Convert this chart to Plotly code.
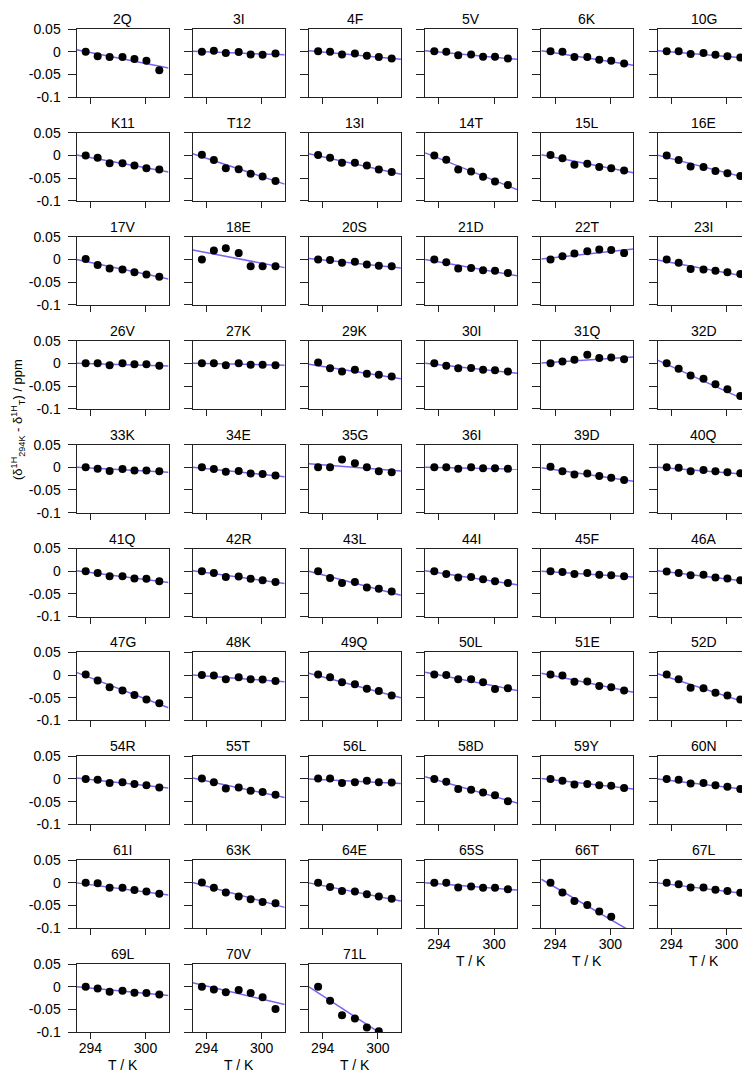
import plotly.graph_objects as go

labels = [
    "2Q", "3I", "4F", "5V", "6K", "10G",
    "K11", "T12", "13I", "14T", "15L", "16E",
    "17V", "18E", "20S", "21D", "22T", "23I",
    "26V", "27K", "29K", "30I", "31Q", "32D",
    "33K", "34E", "35G", "36I", "39D", "40Q",
    "41Q", "42R", "43L", "44I", "45F", "46A",
    "47G", "48K", "49Q", "50L", "51E", "52D",
    "54R", "55T", "56L", "58D", "59Y", "60N",
    "61I", "63K", "64E", "65S", "66T", "67L",
    "69L", "70V", "71L",
]

temps = [293.5, 294.8, 296.1, 297.5, 298.8, 300.1, 301.5]

# delta(294K) - delta(T), ppm, one list per residue
shifts = [
    [0, -0.010, -0.012, -0.012, -0.016, -0.020, -0.041],
    [0, 0.002, -0.003, -0.001, -0.006, -0.007, -0.004],
    [0.001, 0, -0.006, -0.004, -0.009, -0.012, -0.015],
    [0.001, 0, -0.008, -0.006, -0.011, -0.011, -0.015],
    [0.001, 0, -0.012, -0.012, -0.018, -0.020, -0.026],
    [0.001, 0.001, -0.005, -0.003, -0.007, -0.010, -0.013],
    [0, -0.005, -0.017, -0.017, -0.022, -0.028, -0.031],
    [0.002, -0.010, -0.028, -0.030, -0.040, -0.046, -0.056],
    [0.001, -0.005, -0.016, -0.016, -0.022, -0.031, -0.036],
    [0, -0.009, -0.031, -0.035, -0.047, -0.057, -0.065],
    [0.001, -0.006, -0.020, -0.018, -0.025, -0.028, -0.033],
    [0, -0.010, -0.024, -0.025, -0.034, -0.039, -0.045],
    [0.001, -0.012, -0.020, -0.022, -0.028, -0.033, -0.038],
    [0, 0.020, 0.025, 0.014, -0.015, -0.015, -0.015],
    [0, -0.001, -0.007, -0.005, -0.011, -0.014, -0.015],
    [0, -0.006, -0.020, -0.019, -0.024, -0.025, -0.030],
    [0, 0.007, 0.013, 0.018, 0.022, 0.021, 0.014],
    [0, -0.007, -0.021, -0.022, -0.025, -0.028, -0.032],
    [0, 0, -0.004, 0, -0.002, -0.002, -0.005],
    [0, 0, -0.004, 0, -0.003, -0.003, -0.004],
    [0.002, -0.011, -0.018, -0.014, -0.023, -0.025, -0.029],
    [0, -0.005, -0.011, -0.010, -0.014, -0.015, -0.018],
    [0, 0.004, 0.008, 0.019, 0.012, 0.013, 0.009],
    [0, -0.012, -0.027, -0.034, -0.046, -0.057, -0.072],
    [0, -0.003, -0.008, -0.004, -0.007, -0.007, -0.009],
    [0, -0.004, -0.010, -0.008, -0.014, -0.015, -0.018],
    [0, 0, 0.017, 0.009, 0, -0.009, -0.011],
    [0, 0, -0.003, 0, -0.002, -0.002, -0.003],
    [0.001, -0.009, -0.016, -0.014, -0.019, -0.023, -0.028],
    [0, -0.001, -0.009, -0.006, -0.009, -0.011, -0.013],
    [0, -0.004, -0.011, -0.011, -0.016, -0.017, -0.022],
    [0, -0.004, -0.013, -0.012, -0.017, -0.020, -0.024],
    [0, -0.015, -0.026, -0.024, -0.036, -0.039, -0.045],
    [0, -0.006, -0.014, -0.013, -0.018, -0.022, -0.026],
    [0, -0.002, -0.006, -0.004, -0.008, -0.009, -0.011],
    [-0.001, -0.004, -0.009, -0.008, -0.014, -0.016, -0.020],
    [0.001, -0.012, -0.027, -0.034, -0.044, -0.054, -0.062],
    [0, -0.001, -0.009, -0.005, -0.009, -0.010, -0.013],
    [0.001, -0.005, -0.016, -0.020, -0.030, -0.035, -0.045],
    [0.001, 0, -0.009, -0.009, -0.016, -0.031, -0.029],
    [0.001, -0.001, -0.015, -0.014, -0.024, -0.027, -0.034],
    [0.001, -0.009, -0.028, -0.029, -0.039, -0.045, -0.054],
    [0, -0.002, -0.009, -0.007, -0.011, -0.014, -0.019],
    [0.001, -0.007, -0.021, -0.019, -0.026, -0.029, -0.035],
    [0.001, 0.001, -0.009, -0.007, -0.004, -0.007, -0.008],
    [0, -0.006, -0.022, -0.024, -0.030, -0.036, -0.049],
    [0, -0.004, -0.012, -0.011, -0.014, -0.015, -0.020],
    [0, -0.002, -0.010, -0.009, -0.014, -0.017, -0.022],
    [0, -0.001, -0.011, -0.011, -0.016, -0.019, -0.024],
    [0.001, -0.011, -0.021, -0.030, -0.036, -0.042, -0.045],
    [0, -0.009, -0.018, -0.019, -0.025, -0.030, -0.035],
    [0, 0, -0.010, -0.008, -0.011, -0.011, -0.014],
    [0, -0.021, -0.040, -0.049, -0.063, -0.075],
    [0, -0.003, -0.010, -0.010, -0.015, -0.018, -0.022],
    [0, -0.004, -0.011, -0.009, -0.013, -0.014, -0.017],
    [0, -0.006, -0.012, -0.007, -0.014, -0.023, -0.049],
    [0, -0.031, -0.063, -0.070, -0.090, -0.098],
]

# fitted line values at the left (292.5 K) and right (302.5 K) edges
fit_start = [
    0.004, 0.001, 0.002, 0.002, 0.002, 0.002,
    0.001, 0.004, 0.004, 0.006, 0.002, 0.001,
    0.0, 0.021, 0.002, 0.0, 0.001, -0.001,
    0.0, 0.0, -0.002, 0.0, 0.001, 0.007,
    0.0, 0.0, 0.008, 0.0, -0.001, 0.0,
    0.001, 0.001, 0.0, 0.001, 0.0, 0.001,
    0.006, 0.0, 0.004, 0.006, 0.004, 0.003,
    0.002, 0.002, 0.0, 0.005, 0.001, 0.0,
    0.0, 0.001, 0.0, 0.0, 0.008, 0.0,
    0.0, 0.009, 0.0,
]
fit_end = [
    -0.036, -0.007, -0.017, -0.017, -0.030, -0.015,
    -0.036, -0.063, -0.041, -0.075, -0.038, -0.051,
    -0.043, -0.018, -0.019, -0.036, 0.023, -0.039,
    -0.006, -0.004, -0.034, -0.022, 0.014, -0.085,
    -0.011, -0.021, -0.008, -0.004, -0.031, -0.016,
    -0.025, -0.027, -0.053, -0.030, -0.013, -0.023,
    -0.072, -0.015, -0.050, -0.034, -0.038, -0.063,
    -0.020, -0.041, -0.010, -0.053, -0.022, -0.024,
    -0.027, -0.054, -0.040, -0.016, -0.110, -0.025,
    -0.019, -0.039, -0.132,
]

x_range = [292.5, 302.5]
x_ticks = [294, 300]
y_ticks = [-0.1, -0.05, 0, 0.05]
y_ticktext = ["-0.1", "-0.05", "0", "0.05"]

# the page body adds an 8px margin, so the figure is drawn 8px smaller;
# positions below are page pixels, converted to figure fractions
PAD = 8
W, H = 750 - PAD, 1075 - PAD
FONT = "Liberation Sans, Arial, Helvetica, sans-serif"
LINE_COLOR = "#7b61f2"
AXIS_COLOR = "#222222"


def px_x(x):
    return (x - PAD) / W


def px_y(y):
    return 1 - (y - PAD) / H


fig = go.Figure()
layout = {}
annotations = []

for i, label in enumerate(labels):
    row, col = divmod(i, 6)
    n = "" if i == 0 else str(i + 1)
    xa, ya = "x" + n, "y" + n

    # panel box in page pixels
    left = 76.5 + 116.2 * col
    top = 29 + 103.9 * row
    bottom_panel = row == 9 or (row == 8 and col >= 3)

    fig.add_trace(go.Scatter(
        x=x_range, y=[fit_start[i], fit_end[i]],
        mode="lines", line=dict(color=LINE_COLOR, width=1.5),
        xaxis=xa, yaxis=ya, showlegend=False, hoverinfo="skip",
    ))
    ys = shifts[i]
    fig.add_trace(go.Scatter(
        x=temps[:len(ys)], y=ys,
        mode="markers", marker=dict(color="black", size=8),
        xaxis=xa, yaxis=ya, showlegend=False, name=label,
    ))

    layout["xaxis" + n] = dict(
        domain=[px_x(left), px_x(left + 92)], anchor=ya, automargin=False,
        range=x_range, tickvals=x_ticks, ticks="outside", ticklen=6,
        tickcolor=AXIS_COLOR, showticklabels=bottom_panel,
        ticklabelstandoff=-3,
        tickfont=dict(size=14, color="black"),
        showline=True, mirror=True, linecolor=AXIS_COLOR, linewidth=1,
        showgrid=False, zeroline=False,
    )
    layout["yaxis" + n] = dict(
        domain=[px_y(top + 68), px_y(top)], anchor=xa, automargin=False,
        range=[-0.1, 0.05], tickvals=y_ticks, ticktext=y_ticktext,
        ticks="outside", ticklen=8, tickcolor=AXIS_COLOR,
        showticklabels=col == 0, ticklabelstandoff=4,
        tickfont=dict(size=14, color="black"),
        showline=True, mirror=True, linecolor=AXIS_COLOR, linewidth=1,
        showgrid=False, zeroline=False,
    )
    annotations.append(dict(
        text=label, x=px_x(left + 46), y=px_y(top - 1),
        xref="paper", yref="paper", xanchor="center", yanchor="bottom",
        borderpad=0, showarrow=False, font=dict(size=14, color="black"),
    ))
    if bottom_panel:
        annotations.append(dict(
            text="T / K", x=px_x(left + 46), y=px_y(top + 68 + 42),
            xref="paper", yref="paper", xanchor="center", yanchor="bottom",
            borderpad=0, showarrow=False, font=dict(size=14, color="black"),
        ))

annotations.append(dict(
    text="(δ<sup>1H</sup><sub>294K</sub> - δ<sup>1H</sup><sub>T</sub>) / ppm",
    x=px_x(18), y=px_y(420), xref="paper", yref="paper",
    xanchor="center", yanchor="middle", textangle=-90,
    showarrow=False, font=dict(size=13, color="black"),
))

fig.update_layout(
    width=W, height=H,
    margin=dict(l=0, r=0, t=0, b=0),
    paper_bgcolor="white", plot_bgcolor="white",
    font=dict(family=FONT, color="black"),
    annotations=annotations,
    **layout,
)

fig.write_html("out.html")
